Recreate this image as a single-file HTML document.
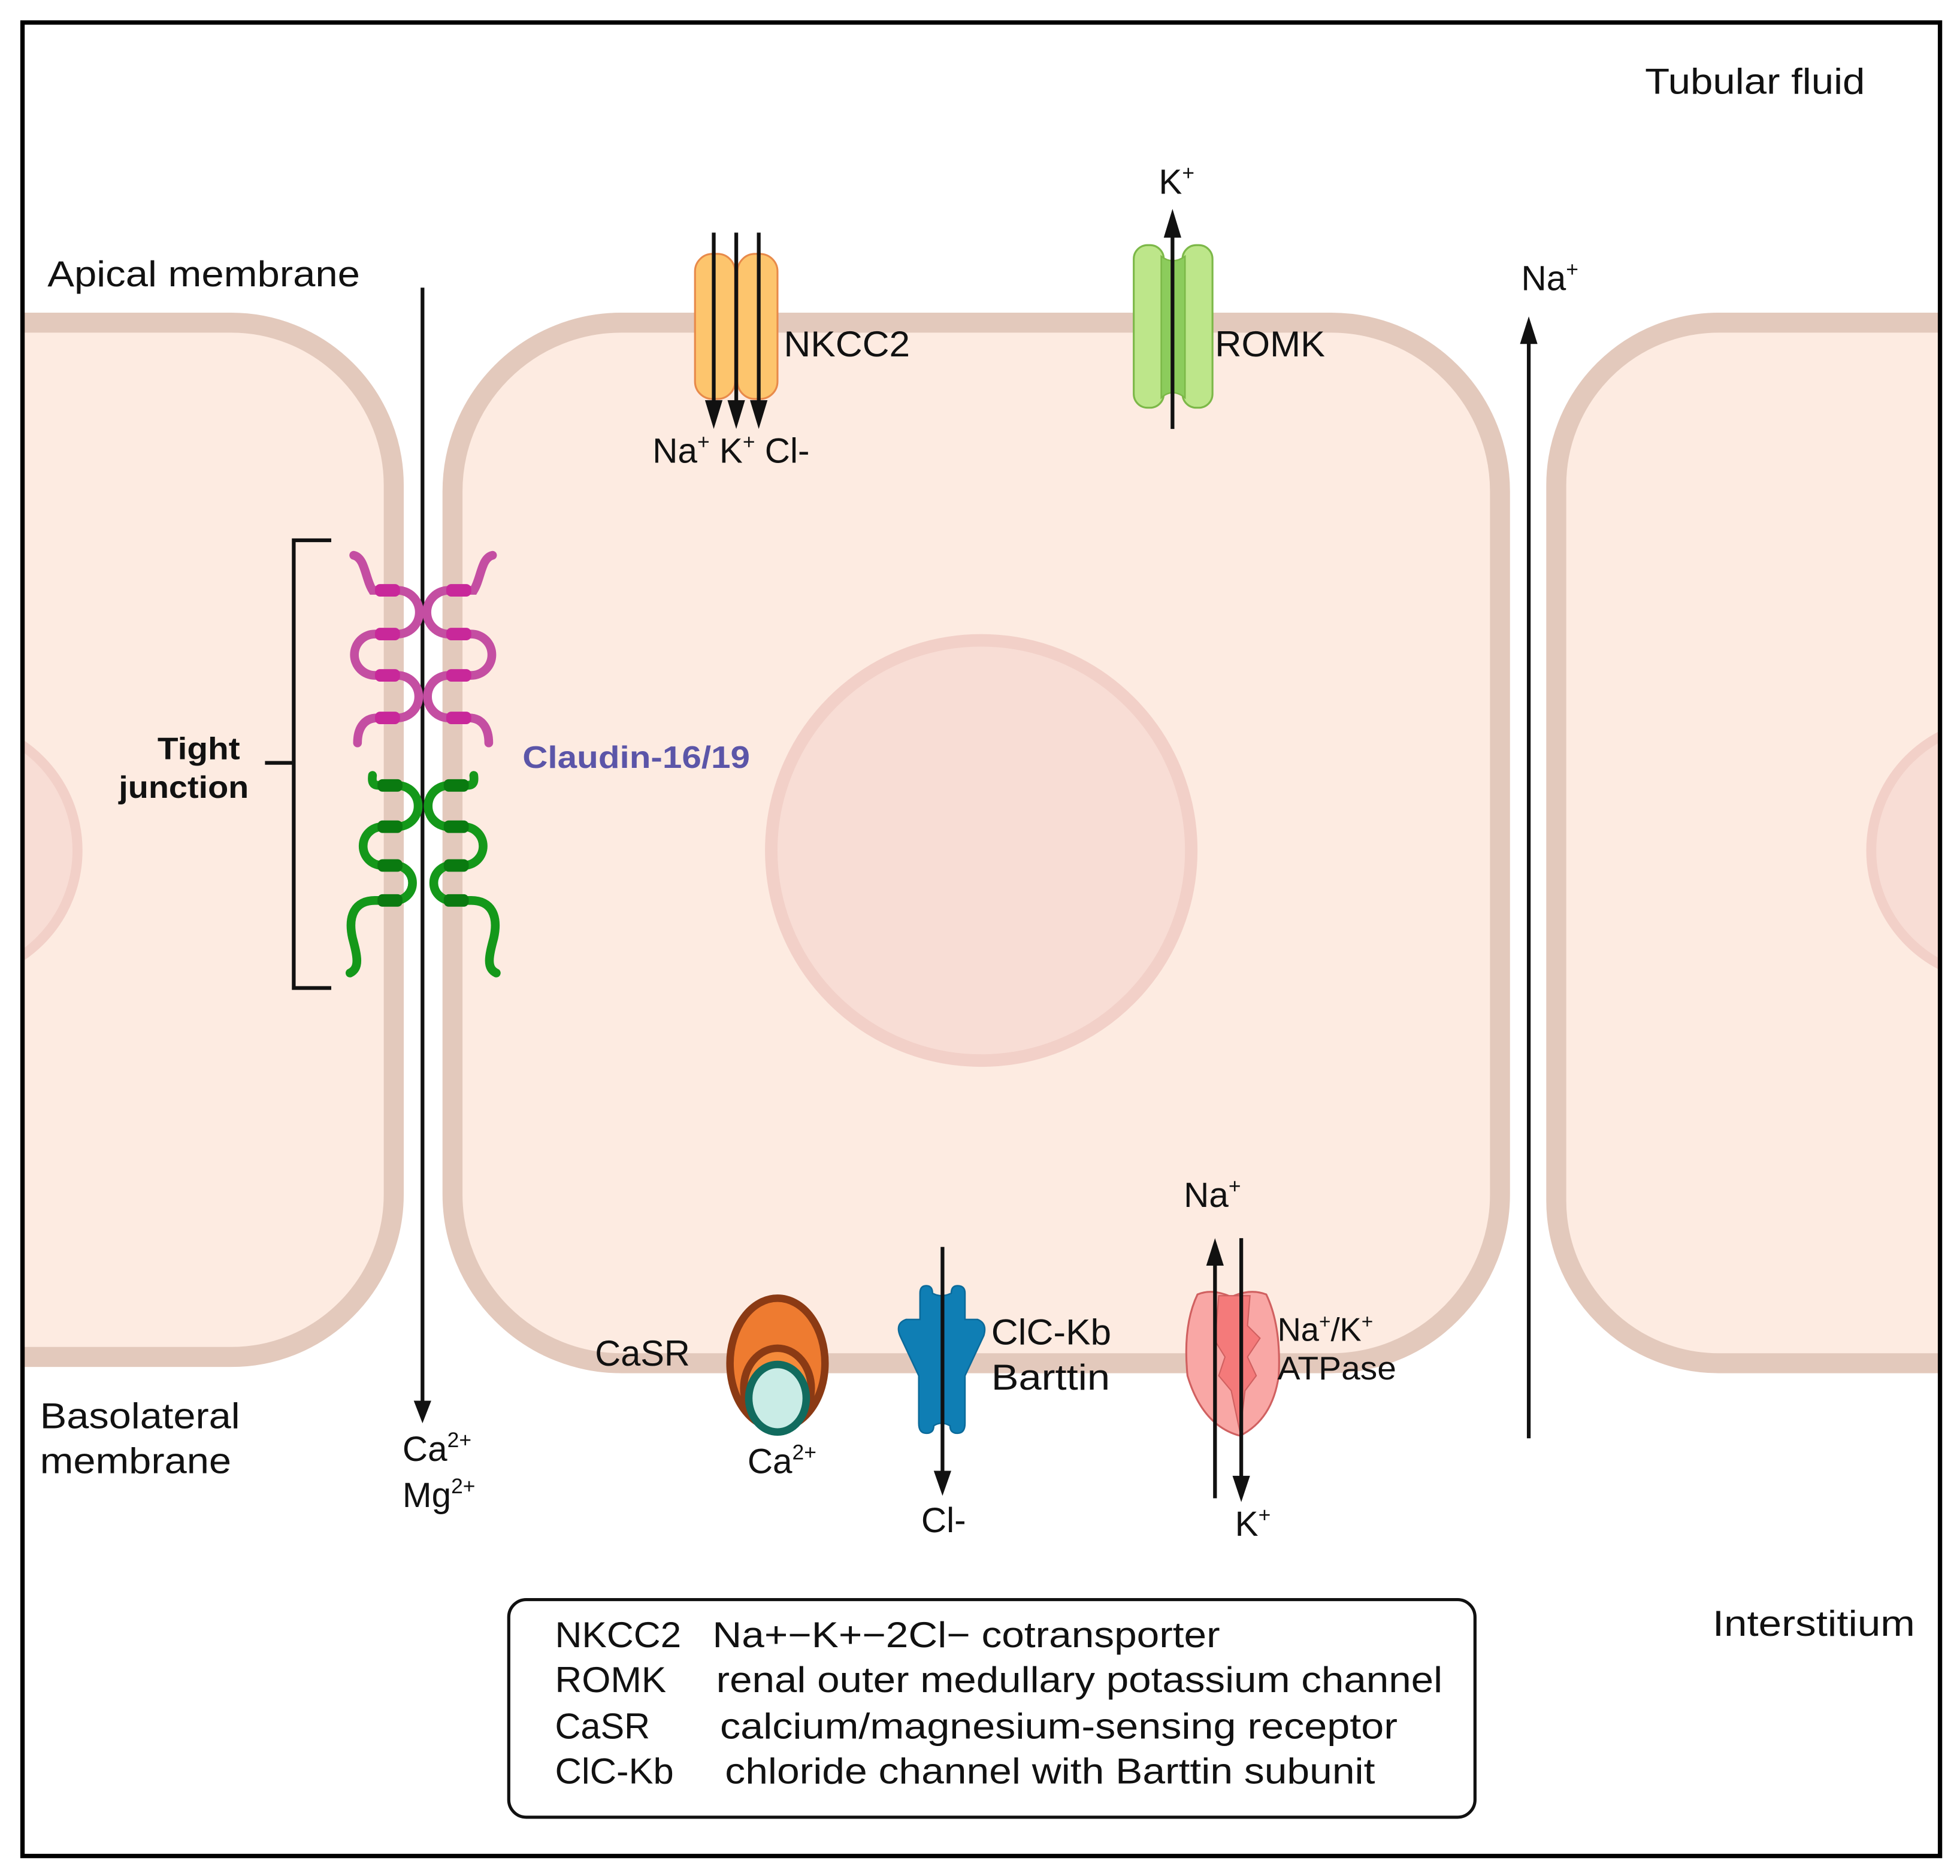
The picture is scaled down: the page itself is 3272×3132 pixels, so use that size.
<!DOCTYPE html>
<html><head><meta charset="utf-8"><style>
html,body{margin:0;padding:0;background:#fff}
svg{display:block}
text{font-family:"Liberation Sans",sans-serif;fill:#111}
</style></head><body>
<svg width="3272" height="3132" viewBox="0 0 1568 1500" preserveAspectRatio="none" xmlns="http://www.w3.org/2000/svg">
<defs>
<clipPath id="c"><rect x="19" y="19" width="1532" height="1464"/></clipPath>
</defs>
<rect x="0" y="0" width="1568" height="1500" fill="#fff"/>
<g clip-path="url(#c)">
<path d="M-20,258 L185,258 A130,130 0 0 1 315,388 L315,955 A130,130 0 0 1 185,1085 L-20,1085 Z" fill="#fdebe1" stroke="#e3c9bc" stroke-width="16"/>
<rect x="362" y="258" width="838" height="832" rx="135" fill="#fdebe1" stroke="#e3c9bc" stroke-width="16"/>
<path d="M1600,258 L1375,258 A130,130 0 0 0 1245,388 L1245,960 A130,130 0 0 0 1375,1090 L1600,1090 Z" fill="#fdebe1" stroke="#e3c9bc" stroke-width="16"/>
<circle cx="785" cy="680" r="168" fill="#f8ddd5" stroke="#f2d0c8" stroke-width="10"/>
<circle cx="-40" cy="680" r="102" fill="#f8ddd5" stroke="#f2d0c8" stroke-width="8"/>
<circle cx="1600" cy="680" r="103" fill="#f8ddd5" stroke="#f2d0c8" stroke-width="8"/>
</g>
<rect x="18" y="18" width="1534" height="1466" fill="none" stroke="#000" stroke-width="3.5"/>

<g font-size="29">
<text x="1316" y="75" textLength="176" lengthAdjust="spacingAndGlyphs">Tubular fluid</text>
<text x="38" y="229" textLength="250" lengthAdjust="spacingAndGlyphs">Apical membrane</text>
<text x="32" y="1142" textLength="160" lengthAdjust="spacingAndGlyphs">Basolateral</text>
<text x="32" y="1178" textLength="153" lengthAdjust="spacingAndGlyphs">membrane</text>
<text x="1370" y="1308" textLength="162" lengthAdjust="spacingAndGlyphs">Interstitium</text>
</g>

<!-- paracellular arrow -->
<line x1="338" y1="230" x2="338" y2="1122" stroke="#111" stroke-width="3"/>
<polygon points="331,1120 345,1120 338,1138" fill="#111"/>
<text x="322" y="1168" font-size="28">Ca<tspan font-size="17" dy="-11">2+</tspan></text>
<text x="322" y="1205" font-size="28">Mg<tspan font-size="17" dy="-11">2+</tspan></text>

<!-- bracket -->
<path d="M265,432 L235,432 L235,790 L265,790 M212,610 L235,610" fill="none" stroke="#111" stroke-width="3"/>
<text x="126" y="607" font-size="25" font-weight="bold" textLength="66" lengthAdjust="spacingAndGlyphs">Tight</text>
<text x="95" y="638" font-size="25" font-weight="bold" textLength="104" lengthAdjust="spacingAndGlyphs">junction</text>

<!-- claudins -->
<g id="cl">
<path d="M283,444 C292,446 292,462 298,472 L318,472 A17.5,17.5 0 0 1 318,507 L300,507 A16.5,16.5 0 0 0 300,540 L318,540 A17,17 0 0 1 318,574 L302,574 C290,574 286,584 286,594" fill="none" stroke="#c44ea2" stroke-width="7" stroke-linecap="round"/>
<g fill="#c8289a"><rect x="300" y="467" width="20" height="10" rx="4"/><rect x="300" y="502" width="20" height="10" rx="4"/><rect x="300" y="535" width="20" height="10" rx="4"/><rect x="300" y="569" width="20" height="10" rx="4"/></g>
<path d="M298,620 C297,628 300,628 306,628 L318,628 A16.5,16.5 0 0 1 318,661 L306,661 A15.5,15.5 0 0 0 306,692 L316,692 A14,14 0 0 1 316,720 L300,720 C284,720 278,732 282,750 C286,765 288,774 280,778" fill="none" stroke="#14981a" stroke-width="7" stroke-linecap="round"/>
<g fill="#0a7a10"><rect x="302" y="623" width="20" height="10" rx="4"/><rect x="302" y="656" width="20" height="10" rx="4"/><rect x="302" y="687" width="20" height="10" rx="4"/><rect x="302" y="715" width="20" height="10" rx="4"/></g>
</g>
<use href="#cl" transform="translate(677,0) scale(-1,1)"/>
<text x="418" y="614" font-size="25" font-weight="bold" style="fill:#5b55a8" textLength="182" lengthAdjust="spacingAndGlyphs">Claudin-16/19</text>

<!-- NKCC2 -->
<rect x="556" y="203" width="32" height="116" rx="14" fill="#fdc56d" stroke="#e88a4a" stroke-width="1.5"/>
<rect x="590" y="203" width="32" height="116" rx="14" fill="#fdc56d" stroke="#e88a4a" stroke-width="1.5"/>
<g stroke="#111" stroke-width="3">
<line x1="571" y1="186" x2="571" y2="322"/>
<line x1="589" y1="186" x2="589" y2="322"/>
<line x1="607" y1="186" x2="607" y2="322"/>
</g>
<g fill="#111">
<polygon points="564,320 578,320 571,343"/>
<polygon points="582,320 596,320 589,343"/>
<polygon points="600,320 614,320 607,343"/>
</g>
<text x="627" y="285" font-size="29" textLength="101" lengthAdjust="spacingAndGlyphs">NKCC2</text>
<text x="522" y="370" font-size="28">Na<tspan font-size="17" dy="-11">+</tspan><tspan dy="11"> K</tspan><tspan font-size="17" dy="-11">+</tspan><tspan dy="11"> Cl-</tspan></text>

<!-- ROMK -->
<rect x="907" y="196" width="24" height="130" rx="11" fill="#bde68a" stroke="#7cb848" stroke-width="1.5"/>
<rect x="946" y="196" width="24" height="130" rx="11" fill="#bde68a" stroke="#7cb848" stroke-width="1.5"/>
<path d="M929,205 Q938,212 948,205 L948,318 Q938,310 929,318 Z" fill="#8ccc5c" stroke="#7cb848" stroke-width="1.2"/>
<line x1="938" y1="343" x2="938" y2="188" stroke="#111" stroke-width="3"/>
<polygon points="931,190 945,190 938,167" fill="#111"/>
<text x="927" y="155" font-size="28">K<tspan font-size="17" dy="-11">+</tspan></text>
<text x="972" y="285" font-size="29" textLength="88" lengthAdjust="spacingAndGlyphs">ROMK</text>

<!-- Na+ paracellular right -->
<line x1="1223" y1="1150" x2="1223" y2="273" stroke="#111" stroke-width="3"/>
<polygon points="1216,275 1230,275 1223,253" fill="#111"/>
<text x="1217" y="232" font-size="28">Na<tspan font-size="17" dy="-11">+</tspan></text>

<!-- CaSR -->
<ellipse cx="622" cy="1090" rx="38" ry="52" fill="#ee7b30" stroke="#8b3a14" stroke-width="6"/>
<ellipse cx="622" cy="1110" rx="27" ry="32" fill="#f58a3a" stroke="#8b3a14" stroke-width="6"/>
<ellipse cx="622" cy="1118" rx="23" ry="27" fill="#c9ece6" stroke="#116b5e" stroke-width="6"/>
<text x="476" y="1092" font-size="29" textLength="76" lengthAdjust="spacingAndGlyphs">CaSR</text>
<text x="598" y="1178" font-size="28">Ca<tspan font-size="17" dy="-11">2+</tspan></text>

<!-- ClC-Kb -->
<path d="M736,1034 Q736,1028 741,1028 Q746,1028 746,1034 Q753,1038 761,1034 Q761,1028 766,1028 Q772,1028 772,1034 L772,1055 L782,1055 Q790,1058 787,1068 L772,1100 L772,1138 Q772,1146 766,1146 Q760,1146 760,1140 Q753,1136 747,1140 Q747,1146 741,1146 Q735,1146 735,1138 L735,1100 L720,1068 Q716,1058 725,1055 L736,1055 Z" fill="#0f7eb4" stroke="#0b6a9a" stroke-width="1.2"/>
<line x1="754" y1="997" x2="754" y2="1178" stroke="#111" stroke-width="3"/>
<polygon points="747,1176 761,1176 754,1196" fill="#111"/>
<text x="737" y="1225" font-size="28">Cl-</text>
<text x="793" y="1075" font-size="29" textLength="96" lengthAdjust="spacingAndGlyphs">ClC-Kb</text>
<text x="793" y="1111" font-size="29" textLength="95" lengthAdjust="spacingAndGlyphs">Barttin</text>

<!-- ATPase -->
<path d="M958,1035 Q970,1030 985,1037 Q1000,1030 1013,1035 Q1025,1060 1023,1100 Q1018,1135 992,1148 Q962,1140 950,1100 Q946,1060 958,1035 Z" fill="#f9a7a5" stroke="#d06060" stroke-width="1.5"/>
<path d="M975,1036 L1000,1036 L998,1060 L1008,1070 L998,1085 L1005,1100 L996,1112 L992,1145 L985,1112 L975,1100 L980,1085 L972,1072 Z" fill="#f47a7a" stroke="#d06060" stroke-width="1"/>
<line x1="972" y1="1198" x2="972" y2="1010" stroke="#111" stroke-width="3"/>
<polygon points="965,1012 979,1012 972,990" fill="#111"/>
<line x1="993" y1="990" x2="993" y2="1181" stroke="#111" stroke-width="3"/>
<polygon points="986,1180 1000,1180 993,1201" fill="#111"/>
<text x="947" y="965" font-size="28">Na<tspan font-size="17" dy="-11">+</tspan></text>
<text x="988" y="1228" font-size="28">K<tspan font-size="17" dy="-11">+</tspan></text>
<text x="1022" y="1072" font-size="26">Na<tspan font-size="16" dy="-10">+</tspan><tspan dy="10">/K</tspan><tspan font-size="16" dy="-10">+</tspan></text>
<text x="1022" y="1103" font-size="26" textLength="95" lengthAdjust="spacingAndGlyphs">ATPase</text>

<!-- legend -->
<rect x="407" y="1279" width="773" height="174" rx="14" fill="#fff" stroke="#111" stroke-width="2.5"/>
<g font-size="29">
<text x="444" y="1317" textLength="101" lengthAdjust="spacingAndGlyphs">NKCC2</text><text x="570" y="1317" textLength="406" lengthAdjust="spacingAndGlyphs">Na+−K+−2Cl− cotransporter</text>
<text x="444" y="1353" textLength="89" lengthAdjust="spacingAndGlyphs">ROMK</text><text x="573" y="1353" textLength="581" lengthAdjust="spacingAndGlyphs">renal outer medullary potassium channel</text>
<text x="444" y="1390" textLength="76" lengthAdjust="spacingAndGlyphs">CaSR</text><text x="576" y="1390" textLength="542" lengthAdjust="spacingAndGlyphs">calcium/magnesium-sensing receptor</text>
<text x="444" y="1426" textLength="95" lengthAdjust="spacingAndGlyphs">ClC-Kb</text><text x="580" y="1426" textLength="520" lengthAdjust="spacingAndGlyphs">chloride channel with Barttin subunit</text>
</g>
</svg>
</body></html>
